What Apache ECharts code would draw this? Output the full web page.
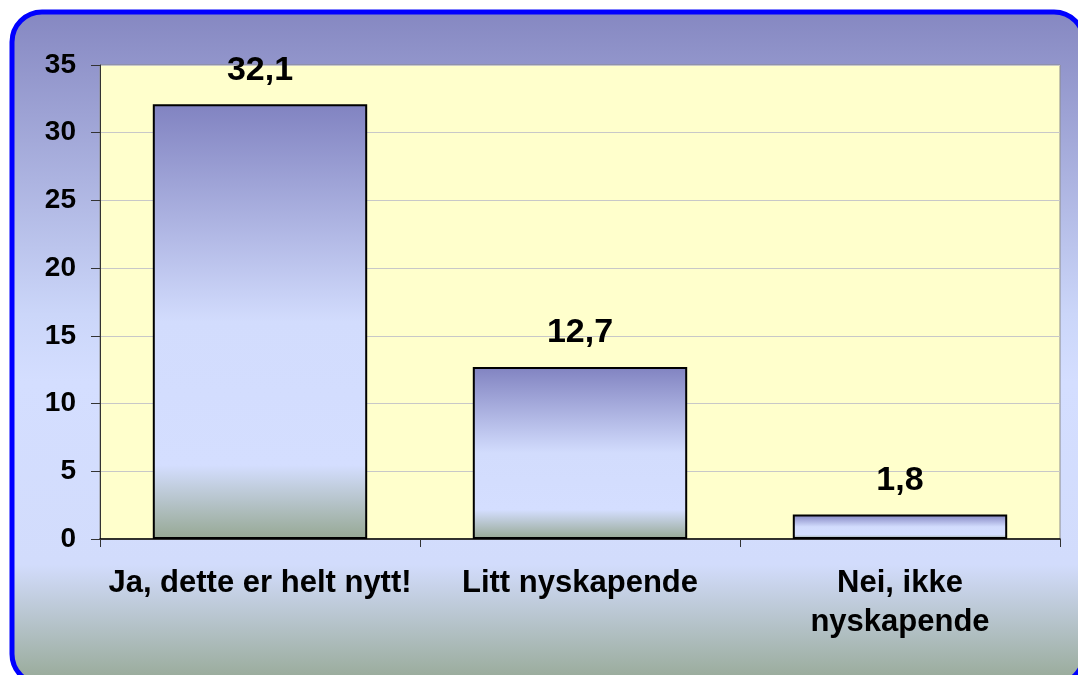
<!DOCTYPE html>
<html>
<head>
<meta charset="utf-8">
<script src="https://cdn.jsdelivr.net/npm/echarts@6/dist/echarts.min.js"></script>
<style>
  html, body { margin: 0; padding: 0; background: #fff; }
  #main { width: 1078px; height: 675px; }
</style>
</head>
<body>
<div id="main"></div>
<script>
// data
const categories = ['Ja, dette er helt nytt!', 'Litt nyskapende', 'Nei, ikke\nnyskapende'];
const values = [32.1, 12.7, 1.8];
const yTicks = { min: 0, max: 35, step: 5 };

const chart = echarts.init(document.getElementById('main'));

// bar fill: purple top -> light blue -> grey green bottom
const barFill = new echarts.graphic.LinearGradient(0, 0, 0, 1, [
  { offset: 0, color: '#8183C1' },
  { offset: 0.5, color: '#D2DCFD' },
  { offset: 0.83, color: '#D4DEFF' },
  { offset: 1, color: '#96A893' }
]);

const option = {
  animation: false,
  graphic: [{
    type: 'rect',
    z: -10,
    silent: true,
    shape: { x: 12, y: 12, width: 1072, height: 672, r: 30 },
    style: {
      fill: new echarts.graphic.LinearGradient(0, 0, 0, 1, [
        { offset: 0, color: '#8587C1' },
        { offset: 0.45, color: '#CBD6F9' },
        { offset: 0.55, color: '#D4DEFF' },
        { offset: 0.82, color: '#D2DCFC' },
        { offset: 1, color: '#96A894' }
      ]),
      stroke: '#0000FF',
      lineWidth: 5
    }
  }],
  grid: {
    left: 100,
    right: 18,
    top: 65,
    bottom: 136,
    show: true,
    backgroundColor: '#FFFFCC',
    borderColor: '#8C8C8C',
    borderWidth: 1
  },
  xAxis: {
    type: 'category',
    data: categories,
    axisLine: { show: true, lineStyle: { color: '#000', width: 1.5 } },
    axisTick: { show: true, length: 8, interval: 0, lineStyle: { color: '#333' } },
    axisLabel: {
      interval: 0,
      margin: 25,
      color: '#000',
      fontFamily: 'Liberation Sans, Arial',
      fontWeight: 'bold',
      fontSize: 31,
      lineHeight: 39
    }
  },
  yAxis: {
    type: 'value',
    min: yTicks.min,
    max: yTicks.max,
    interval: yTicks.step,
    axisLine: { show: true, lineStyle: { color: '#333', width: 1 } },
    axisTick: { show: true, length: 9, lineStyle: { color: '#333' } },
    axisLabel: {
      margin: 24,
      color: '#000',
      fontFamily: 'Liberation Sans, Arial',
      fontWeight: 'bold',
      fontSize: 28
    },
    splitLine: { lineStyle: { color: '#C8C8C8', width: 1 } }
  },
  series: [{
    type: 'bar',
    data: values,
    barWidth: '67%',
    itemStyle: {
      color: barFill,
      borderColor: '#000',
      borderWidth: 2
    },
    label: {
      show: true,
      position: 'top',
      distance: 17,
      color: '#000',
      fontFamily: 'Liberation Sans, Arial',
      fontWeight: 'bold',
      fontSize: 34,
      formatter: p => String(p.value).replace('.', ',')
    }
  }]
};

chart.setOption(option);
</script>
</body>
</html>
